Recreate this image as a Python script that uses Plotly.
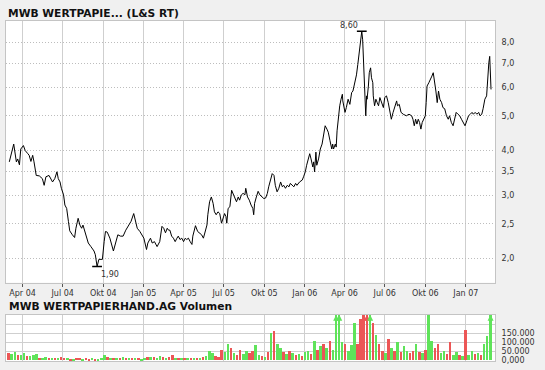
import math
import plotly.graph_objects as go
import pandas as pd

# ---------------- data ----------------
price_dates = [
    "2004-03-02", "2004-03-12", "2004-03-18", "2004-03-21", "2004-03-25", "2004-03-28",
    "2004-04-03", "2004-04-07", "2004-04-13", "2004-04-16", "2004-04-20", "2004-04-24",
    "2004-04-27", "2004-04-30", "2004-05-02", "2004-05-09", "2004-05-16", "2004-05-20",
    "2004-05-24", "2004-05-31", "2004-06-04", "2004-06-08", "2004-06-13", "2004-06-18",
    "2004-06-21", "2004-06-25", "2004-06-28", "2004-07-03", "2004-07-06", "2004-07-10",
    "2004-07-14", "2004-07-17", "2004-07-23", "2004-07-28", "2004-07-31", "2004-08-05",
    "2004-08-09", "2004-08-13", "2004-08-16", "2004-08-20", "2004-08-24", "2004-08-28",
    "2004-09-03", "2004-09-10", "2004-09-13", "2004-09-16", "2004-09-17", "2004-09-21",
    "2004-09-29", "2004-10-03", "2004-10-06", "2004-10-10", "2004-10-16", "2004-10-24",
    "2004-10-27", "2004-10-31", "2004-11-03", "2004-11-09", "2004-11-15", "2004-11-21",
    "2004-11-28", "2004-12-03", "2004-12-09", "2004-12-13", "2004-12-17", "2004-12-23",
    "2004-12-28", "2005-01-01", "2005-01-07", "2005-01-10", "2005-01-16", "2005-01-20",
    "2005-01-25", "2005-01-31", "2005-02-06", "2005-02-11", "2005-02-15", "2005-02-19",
    "2005-02-23", "2005-02-26", "2005-03-01", "2005-03-05", "2005-03-09", "2005-03-13",
    "2005-03-17", "2005-03-20", "2005-03-24", "2005-03-28", "2005-04-01", "2005-04-05",
    "2005-04-08", "2005-04-12", "2005-04-16", "2005-04-20", "2005-04-22", "2005-04-25",
    "2005-04-28", "2005-05-03", "2005-05-07", "2005-05-12", "2005-05-16", "2005-05-20",
    "2005-05-24", "2005-05-26", "2005-05-30", "2005-06-03", "2005-06-07", "2005-06-10",
    "2005-06-14", "2005-06-18", "2005-06-22", "2005-06-26", "2005-06-29", "2005-07-03",
    "2005-07-06", "2005-07-08", "2005-07-11", "2005-07-15", "2005-07-19", "2005-07-22",
    "2005-07-26", "2005-07-30", "2005-08-03", "2005-08-06", "2005-08-10", "2005-08-14",
    "2005-08-18", "2005-08-20", "2005-08-24", "2005-08-28", "2005-09-01", "2005-09-05",
    "2005-09-07", "2005-09-09", "2005-09-13", "2005-09-17", "2005-09-21", "2005-09-25",
    "2005-09-30", "2005-10-04", "2005-10-08", "2005-10-11", "2005-10-15", "2005-10-19",
    "2005-10-23", "2005-10-26", "2005-10-30", "2005-11-03", "2005-11-07", "2005-11-11",
    "2005-11-14", "2005-11-18", "2005-11-22", "2005-11-26", "2005-11-29", "2005-12-03",
    "2005-12-07", "2005-12-11", "2005-12-14", "2005-12-20", "2005-12-26", "2005-12-29",
    "2006-01-02", "2006-01-05", "2006-01-08", "2006-01-12", "2006-01-15", "2006-01-19",
    "2006-01-21", "2006-01-23", "2006-01-26", "2006-01-28", "2006-02-01", "2006-02-05",
    "2006-02-09", "2006-02-12", "2006-02-16", "2006-02-20", "2006-02-23", "2006-02-27",
    "2006-03-03", "2006-03-05", "2006-03-07", "2006-03-11", "2006-03-13", "2006-03-15",
    "2006-03-18", "2006-03-21", "2006-03-24", "2006-03-27", "2006-03-28", "2006-04-02",
    "2006-04-05", "2006-04-09", "2006-04-13", "2006-04-17", "2006-04-20", "2006-04-24",
    "2006-04-28", "2006-05-01", "2006-05-05", "2006-05-08", "2006-05-10", "2006-05-12",
    "2006-05-13", "2006-05-15", "2006-05-17", "2006-05-19", "2006-05-21", "2006-05-22",
    "2006-05-25", "2006-05-27", "2006-05-30", "2006-06-01", "2006-06-04", "2006-06-05",
    "2006-06-08", "2006-06-11", "2006-06-14", "2006-06-17", "2006-06-20", "2006-06-24",
    "2006-06-28", "2006-07-01", "2006-07-05", "2006-07-09", "2006-07-13", "2006-07-16",
    "2006-07-20", "2006-07-24", "2006-07-28", "2006-07-30", "2006-08-03", "2006-08-07",
    "2006-08-12", "2006-08-19", "2006-08-25", "2006-08-31", "2006-09-03", "2006-09-06",
    "2006-09-09", "2006-09-12", "2006-09-15", "2006-09-18", "2006-09-21", "2006-09-24",
    "2006-09-27", "2006-10-01", "2006-10-03", "2006-10-05", "2006-10-09", "2006-10-13",
    "2006-10-16", "2006-10-19", "2006-10-22", "2006-10-25", "2006-10-28", "2006-10-31",
    "2006-11-03", "2006-11-07", "2006-11-10", "2006-11-14", "2006-11-18", "2006-11-22",
    "2006-11-25", "2006-11-29", "2006-12-03", "2006-12-07", "2006-12-10", "2006-12-14",
    "2006-12-18", "2006-12-22", "2006-12-26", "2006-12-30", "2007-01-03", "2007-01-07",
    "2007-01-11", "2007-01-15", "2007-01-18", "2007-01-22", "2007-01-26", "2007-01-30",
    "2007-02-02", "2007-02-06", "2007-02-09", "2007-02-13", "2007-02-17", "2007-02-20",
    "2007-02-22", "2007-02-24", "2007-02-26", "2007-02-27",
]
price_values = [
    3.72, 4.17, 3.72, 3.79, 3.65, 4.04,
    4.13, 4.00, 3.92, 3.88, 3.73, 3.88,
    3.72, 3.56, 3.41, 3.40, 3.34, 3.20,
    3.38, 3.41, 3.34, 3.27, 3.34, 3.49,
    3.34, 3.27, 3.14, 3.01, 2.82, 2.76,
    2.54, 2.39, 2.33, 2.29, 2.43, 2.59,
    2.48, 2.43, 2.48, 2.38, 2.28, 2.21,
    2.16, 2.10, 2.05, 1.95, 1.90, 1.99,
    1.99, 2.23, 2.38, 2.37, 2.28, 2.10,
    2.16, 2.28, 2.33, 2.31, 2.31, 2.40,
    2.48, 2.54, 2.67, 2.56, 2.43, 2.38,
    2.33, 2.28, 2.12, 2.21, 2.28, 2.21,
    2.23, 2.16, 2.23, 2.46, 2.43, 2.36,
    2.43, 2.40, 2.40, 2.31, 2.28, 2.23,
    2.28, 2.31, 2.26, 2.28, 2.23, 2.28,
    2.26, 2.28, 2.23, 2.19, 2.31, 2.40,
    2.47, 2.38, 2.36, 2.33, 2.28, 2.36,
    2.48, 2.65, 2.88, 2.97, 2.85, 2.70,
    2.65, 2.70, 2.67, 2.51, 2.59, 2.67,
    2.62, 2.51, 2.76, 2.79, 3.10, 3.04,
    2.94, 2.88, 2.97, 2.91, 3.01, 3.04,
    3.01, 3.14, 2.97, 2.91, 2.82, 2.76,
    2.65, 2.85, 2.97, 3.08, 3.01, 2.97,
    2.94, 2.95, 3.04, 3.17, 3.31, 3.45,
    3.41, 3.20, 3.07, 3.14, 3.27, 3.17,
    3.20, 3.14, 3.20, 3.17, 3.24, 3.20,
    3.17, 3.24, 3.20, 3.27, 3.31, 3.38,
    3.49, 3.64, 3.75, 3.92, 3.79, 3.60,
    3.72, 3.49, 3.96, 3.64, 3.79, 4.04,
    4.17, 4.40, 4.69, 4.59, 4.50, 4.26,
    4.04, 4.17, 4.04, 4.17, 4.09, 4.54,
    5.00, 5.33, 5.56, 5.74, 5.50, 5.11,
    5.27, 5.56, 5.38, 5.80, 5.86, 6.15,
    6.50, 6.95, 7.64, 8.14, 8.60, 8.14,
    7.64, 6.73, 5.92, 5.00, 5.68, 5.56,
    6.05, 6.59, 6.80, 6.38, 6.18, 5.68,
    5.33, 5.56, 5.44, 5.33, 5.62, 5.44,
    5.27, 5.62, 5.68, 5.44, 5.11, 4.89,
    5.11, 5.33, 5.50, 5.33, 5.38, 5.11,
    5.05, 5.00, 5.05, 5.00, 4.89, 4.69,
    4.89, 4.74, 4.89, 4.79, 4.59, 4.79,
    4.89, 5.00, 5.44, 6.05, 6.18, 6.31,
    6.45, 6.59, 6.25, 5.86, 5.44, 5.86,
    5.56, 5.44, 5.27, 5.23, 5.00, 4.89,
    5.00, 4.79, 4.69, 4.95, 5.11, 5.05,
    5.00, 4.89, 4.79, 4.69, 4.84, 5.00,
    5.05, 5.11, 5.05, 5.11, 5.05, 5.11,
    5.00, 5.05, 5.23, 5.56, 5.68, 6.59,
    7.02, 7.32, 6.45, 5.92,
]

# weekly volume (thousand shares), week starting 2004-03-01; 1 = up week (green), 0 = down (red)
vol_first_week = "2004-03-01"
vol_thousands = [
    40, 35, 45, 30, 28, 40, 22, 25, 30, 38,
    15, 14, 20, 15, 12, 14, 12, 20, 15, 12,
    10, 10, 12, 14, 10, 12, 10, 12, 10, 10,
    12, 30, 18, 15, 14, 16, 14, 18, 14, 12,
    14, 12, 14, 10, 16, 18, 20, 18, 16, 22,
    18, 14, 20, 28, 12, 14, 14, 12, 16, 14,
    12, 14, 12, 18, 22, 50, 40, 25, 20, 60,
    45, 90, 70, 40, 30, 60, 35, 50, 40, 55,
    85, 30, 25, 20, 45, 150, 165, 90, 70, 45,
    35, 55, 40, 30, 35, 25, 45, 55, 35, 110,
    60, 80, 90, 70, 110, 60, 300, 300, 100, 90,
    55, 85, 210, 90, 230, 320, 280, 300, 210, 140,
    90, 50, 40, 120, 70, 55, 100, 45, 80, 50,
    40, 55, 90, 45, 40, 60, 250, 105, 70, 90,
    40, 55, 35, 100, 30, 45, 30, 25, 170, 30,
    55, 35, 40, 30, 90, 135, 300,
]
vol_up = [
    0, 1, 1, 0, 1, 1, 0, 1, 1, 1,
    0, 1, 1, 0, 1, 0, 1, 0, 0, 1,
    0, 1, 0, 0, 1, 0, 0, 1, 0, 1,
    1, 1, 0, 1, 0, 1, 0, 1, 0, 1,
    0, 1, 0, 1, 1, 0, 1, 0, 1, 1,
    0, 1, 0, 0, 1, 0, 1, 0, 1, 0,
    1, 0, 1, 0, 1, 1, 1, 0, 0, 0,
    1, 1, 0, 1, 0, 0, 1, 1, 0, 0,
    1, 1, 0, 1, 0, 1, 0, 1, 1, 0,
    1, 0, 1, 0, 1, 0, 1, 1, 0, 1,
    0, 1, 0, 1, 0, 1, 1, 1, 1, 0,
    1, 1, 1, 0, 0, 0, 0, 1, 0, 1,
    0, 0, 1, 0, 1, 0, 1, 0, 1, 1,
    0, 0, 1, 0, 1, 0, 1, 1, 0, 0,
    1, 1, 0, 0, 1, 1, 0, 1, 0, 1,
    1, 0, 1, 0, 1, 1, 1,
]

x_tick_dates = ["2004-04-01", "2004-07-01", "2004-10-01", "2005-01-01", "2005-04-01",
                "2005-07-01", "2005-10-01", "2006-01-01", "2006-04-01", "2006-07-01",
                "2006-10-01", "2007-01-01"]
x_tick_labels = ["Apr 04", "Jul 04", "Okt 04", "Jan 05", "Apr 05", "Jul 05", "Okt 05",
                 "Jan 06", "Apr 06", "Jul 06", "Okt 06", "Jan 07"]
price_ticks = [2.0, 2.5, 3.0, 3.5, 4.0, 5.0, 6.0, 7.0, 8.0]
price_tick_labels = ["2,0", "2,5", "3,0", "3,5", "4,0", "5,0", "6,0", "7,0", "8,0"]
vol_ticks = [0, 50000, 100000, 150000, 200000]
vol_tick_labels = ["0,000", "50.000", "100.000", "150.000", ""]

title_main = "MWB WERTPAPIE... (L&S RT)"
title_vol = "MWB WERTPAPIERHAND.AG Volumen"

# ---------------- derived ----------------
vol_dates = pd.date_range(vol_first_week, periods=len(vol_thousands), freq="7D")
vol_values = [v * 1000 for v in vol_thousands]
VOL_MAX = 252000
GREEN = "#5fe35a"
RED = "#ec5656"
vol_colors = [GREEN if u else RED for u in vol_up]

hi_i = max(range(len(price_values)), key=lambda i: price_values[i])
lo_i = min(range(len(price_values)), key=lambda i: price_values[i])
fmt = lambda v: f"{v:.2f}".replace(".", ",")

FONT = "DejaVu Sans"
GRID = "#cfcfcf"
BORDER = "#c4c4c4"

fig = go.Figure()
fig.add_trace(go.Scatter(x=price_dates, y=price_values, mode="lines",
                         line=dict(color="#000000", width=1), xaxis="x", yaxis="y",
                         hoverinfo="skip"))
fig.add_trace(go.Scatter(x=[price_dates[hi_i], price_dates[lo_i]],
                         y=[price_values[hi_i], price_values[lo_i]], mode="markers",
                         marker=dict(symbol="line-ew", size=7,
                                     line=dict(color="#000000", width=1.5)),
                         xaxis="x", yaxis="y", hoverinfo="skip"))
fig.add_trace(go.Bar(x=vol_dates, y=vol_values, marker=dict(color=vol_colors, line=dict(width=0)),
                     width=4.5 * 86400000, xaxis="x2", yaxis="y2", hoverinfo="skip"))
over = [i for i, v in enumerate(vol_values) if v > VOL_MAX]
fig.add_trace(go.Scatter(x=[vol_dates[i] for i in over], y=[VOL_MAX] * len(over), mode="markers",
                         marker=dict(symbol="arrow-up", size=6,
                                     color=[vol_colors[i] for i in over]),
                         cliponaxis=False, xaxis="x2", yaxis="y2", hoverinfo="skip"))

tickfont = dict(family=FONT, size=8, color="#333333")
xr = ["2004-02-23 12:00", "2007-03-08"]
DOT = "1px,2px"

fig.update_layout(
    width=545, height=370,
    margin=dict(l=5, r=50, t=21, b=6),
    paper_bgcolor="#f0f0f0", plot_bgcolor="#ffffff",
    showlegend=False, bargap=0,
    font=dict(family=FONT, size=8, color="#333333"),
    xaxis=dict(type="date", range=xr, domain=[0, 1], anchor="y",
               tickvals=x_tick_dates, ticktext=x_tick_labels, tickfont=tickfont,
               ticks="outside", ticklen=3, tickcolor="#555555",
               showgrid=True, gridcolor=GRID, gridwidth=1,
               showline=True, mirror=True, linecolor=BORDER, linewidth=1, zeroline=False),
    yaxis=dict(type="log", range=[0.2339, 0.9630], domain=[0.2303, 1], anchor="x",
               side="right", tickvals=price_ticks, ticktext=price_tick_labels,
               tickfont=tickfont, ticks="", ticklabelstandoff=4,
               showgrid=True, gridcolor="#bdbdbd", griddash=DOT, gridwidth=1,
               showline=True, mirror=True, linecolor=BORDER, linewidth=1, zeroline=False),
    xaxis2=dict(type="date", matches="x", domain=[0, 1], anchor="y2",
                tickvals=x_tick_dates, showticklabels=False, ticks="",
                showgrid=True, gridcolor=GRID, gridwidth=1,
                showline=True, mirror=True, linecolor=BORDER, linewidth=1, zeroline=False),
    yaxis2=dict(range=[-5000, VOL_MAX], domain=[0, 0.1362], anchor="x2", side="right",
                tickvals=vol_ticks, ticktext=vol_tick_labels, tickfont=tickfont,
                ticks="", ticklabelstandoff=4,
                showgrid=True, gridcolor=GRID, gridwidth=1,
                showline=True, mirror=True, linecolor=BORDER, linewidth=1, zeroline=False),
    annotations=[
        dict(text=title_main, xref="paper", yref="paper", x=0, y=1.0233,
             xanchor="left", yanchor="middle", xshift=0, showarrow=False,
             font=dict(family=FONT, size=10.7, color="#111111", weight="bold")),
        dict(text=title_vol, xref="paper", yref="paper", x=0, y=0.1589,
             xanchor="left", yanchor="middle", xshift=1, showarrow=False,
             font=dict(family=FONT, size=10.7, color="#111111", weight="bold")),
        dict(text=fmt(price_values[hi_i]), xref="x", yref="y", x=price_dates[hi_i],
             y=math.log10(price_values[hi_i]), xanchor="right", yanchor="middle",
             xshift=-2, yshift=6, showarrow=False,
             font=dict(family=FONT, size=8, color="#333333")),
        dict(text=fmt(price_values[lo_i]), xref="x", yref="y", x=price_dates[lo_i],
             y=math.log10(price_values[lo_i]), xanchor="left", yanchor="middle",
             xshift=2, yshift=-8, showarrow=False,
             font=dict(family=FONT, size=8, color="#333333")),
    ],
)

fig.write_html("out.html")
